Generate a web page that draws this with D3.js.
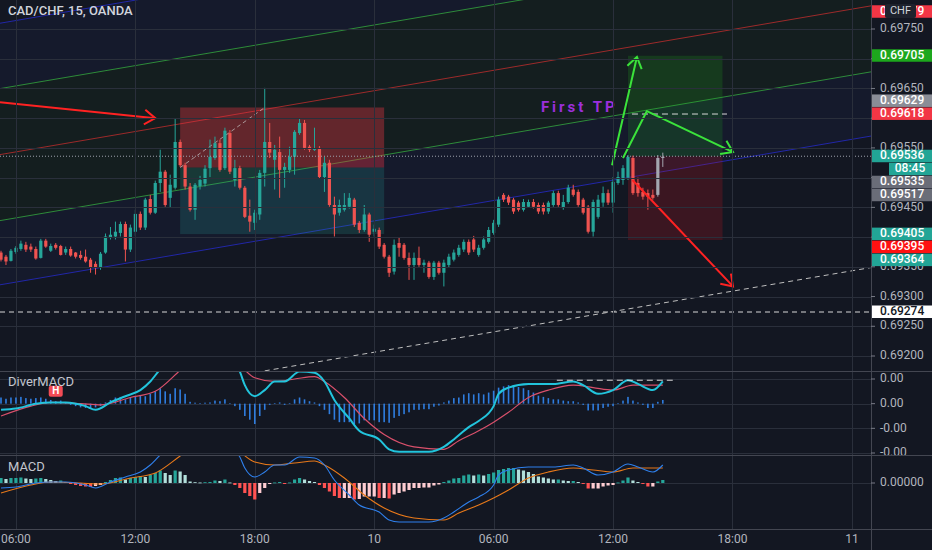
<!DOCTYPE html>
<html><head><meta charset="utf-8">
<script src="https://cdn.jsdelivr.net/npm/d3@7"></script>
<style>html,body{margin:0;padding:0;background:#131722;overflow:hidden}svg{display:block}</style>
</head><body><svg id="c" width="932" height="550"></svg>
<script>
// ---------- DATA (CAD/CHF 15m, OANDA) ----------
const open=[0.69374,0.69367,0.69360,0.69375,0.69380,0.69387,0.69384,0.69380,0.69365,0.69394,
0.69377,0.69387,0.69385,0.69374,0.69380,0.69374,0.69370,0.69367,0.69362,0.69355,
0.69348,0.69374,0.69399,0.69401,0.69407,0.69422,0.69379,0.69409,0.69439,0.69416,
0.69464,0.69441,0.69491,0.69510,0.69466,0.69483,0.69560,0.69521,0.69485,0.69446,
0.69486,0.69490,0.69516,0.69533,0.69558,0.69516,0.69575,0.69496,0.69516,0.69483,
0.69436,0.69424,0.69438,0.69508,0.69560,0.69530,0.69543,0.69513,0.69513,0.69535,
0.69575,0.69592,0.69552,0.69547,0.69550,0.69501,0.69525,0.69454,0.69441,0.69446,
0.69451,0.69463,0.69424,0.69412,0.69438,0.69409,0.69412,0.69387,0.69367,0.69342,
0.69390,0.69387,0.69365,0.69353,0.69365,0.69353,0.69357,0.69333,0.69357,0.69340,
0.69353,0.69362,0.69370,0.69379,0.69392,0.69396,0.69370,0.69382,0.69392,0.69407,
0.69421,0.69471,0.69468,0.69463,0.69458,0.69446,0.69451,0.69459,0.69454,0.69454,
0.69443,0.69454,0.69474,0.69449,0.69459,0.69480,0.69476,0.69463,0.69451,0.69409,
0.69434,0.69458,0.69474,0.69458,0.69491,0.69496,0.69500,0.69533,0.69491,0.69476,
0.69474,0.69471,0.69471,0.69533];
const high=[0.69377,0.69370,0.69380,0.69385,0.69394,0.69392,0.69389,0.69384,0.69397,0.69397,
0.69389,0.69390,0.69387,0.69384,0.69384,0.69375,0.69377,0.69379,0.69365,0.69359,
0.69375,0.69406,0.69417,0.69426,0.69426,0.69426,0.69421,0.69446,0.69443,0.69466,
0.69471,0.69495,0.69547,0.69513,0.69505,0.69600,0.69564,0.69525,0.69491,0.69491,
0.69503,0.69521,0.69564,0.69569,0.69564,0.69584,0.69580,0.69530,0.69520,0.69486,
0.69463,0.69446,0.69513,0.69651,0.69592,0.69555,0.69569,0.69525,0.69552,0.69580,
0.69600,0.69597,0.69555,0.69584,0.69553,0.69535,0.69530,0.69468,0.69463,0.69474,
0.69474,0.69466,0.69427,0.69454,0.69441,0.69421,0.69416,0.69390,0.69370,0.69396,
0.69399,0.69390,0.69374,0.69374,0.69384,0.69362,0.69360,0.69360,0.69360,0.69362,
0.69372,0.69379,0.69387,0.69396,0.69396,0.69402,0.69387,0.69401,0.69417,0.69429,
0.69468,0.69474,0.69471,0.69466,0.69461,0.69464,0.69463,0.69464,0.69458,0.69458,
0.69461,0.69478,0.69478,0.69471,0.69488,0.69488,0.69480,0.69466,0.69454,0.69463,
0.69471,0.69485,0.69480,0.69501,0.69510,0.69521,0.69538,0.69537,0.69500,0.69483,
0.69480,0.69480,0.69538,0.69542];
const low=[0.69359,0.69353,0.69359,0.69372,0.69377,0.69375,0.69375,0.69362,0.69364,0.69382,
0.69375,0.69379,0.69369,0.69370,0.69367,0.69364,0.69362,0.69357,0.69340,0.69337,
0.69345,0.69372,0.69396,0.69396,0.69401,0.69359,0.69375,0.69402,0.69412,0.69412,
0.69438,0.69439,0.69476,0.69451,0.69449,0.69480,0.69518,0.69480,0.69443,0.69429,
0.69480,0.69485,0.69501,0.69530,0.69510,0.69513,0.69506,0.69485,0.69480,0.69432,
0.69409,0.69412,0.69429,0.69485,0.69533,0.69480,0.69466,0.69483,0.69508,0.69505,
0.69572,0.69547,0.69543,0.69545,0.69498,0.69476,0.69451,0.69401,0.69436,0.69443,
0.69448,0.69417,0.69407,0.69409,0.69392,0.69401,0.69380,0.69364,0.69333,0.69337,
0.69367,0.69362,0.69328,0.69328,0.69350,0.69340,0.69330,0.69328,0.69337,0.69317,
0.69348,0.69359,0.69367,0.69375,0.69370,0.69375,0.69367,0.69379,0.69389,0.69404,
0.69417,0.69459,0.69454,0.69439,0.69443,0.69443,0.69449,0.69448,0.69439,0.69438,
0.69439,0.69451,0.69451,0.69446,0.69456,0.69468,0.69451,0.69438,0.69406,0.69401,
0.69431,0.69451,0.69454,0.69441,0.69488,0.69488,0.69496,0.69471,0.69468,0.69463,
0.69446,0.69463,0.69468,0.69518];
const close=[0.69362,0.69359,0.69377,0.69382,0.69389,0.69379,0.69379,0.69364,0.69394,0.69384,
0.69385,0.69382,0.69370,0.69380,0.69369,0.69367,0.69365,0.69359,0.69348,0.69348,
0.69372,0.69401,0.69404,0.69409,0.69422,0.69379,0.69416,0.69439,0.69416,0.69463,
0.69441,0.69491,0.69510,0.69454,0.69488,0.69560,0.69521,0.69485,0.69446,0.69488,
0.69496,0.69515,0.69535,0.69558,0.69513,0.69579,0.69510,0.69516,0.69483,0.69434,
0.69426,0.69441,0.69508,0.69560,0.69542,0.69547,0.69513,0.69518,0.69535,0.69577,
0.69592,0.69550,0.69547,0.69548,0.69501,0.69525,0.69454,0.69438,0.69454,0.69454,
0.69466,0.69421,0.69412,0.69438,0.69404,0.69414,0.69384,0.69367,0.69340,0.69387,
0.69382,0.69365,0.69353,0.69365,0.69353,0.69357,0.69333,0.69357,0.69340,0.69357,
0.69367,0.69374,0.69382,0.69392,0.69374,0.69379,0.69382,0.69396,0.69412,0.69424,
0.69463,0.69463,0.69458,0.69443,0.69446,0.69459,0.69459,0.69451,0.69443,0.69443,
0.69458,0.69474,0.69454,0.69459,0.69483,0.69471,0.69454,0.69441,0.69409,0.69459,
0.69463,0.69474,0.69458,0.69493,0.69501,0.69516,0.69535,0.69474,0.69474,0.69468,
0.69468,0.69466,0.69533,0.69535];
const grayBars=[132,133];

const hist=[0.00005,0.00004,0.00005,0.00005,0.000055,0.000045,0.00004,0.000045,0.00005,0.00004,
0.00003,0.00002,0.000025,0.00001,-0.00001,-0.00002,-0.00003,-0.000035,-0.00004,-0.00003,
-0.00002,0.00001,0.00003,0.00005,0.000055,0.000035,0.00005,0.00006,0.00007,0.00006,
0.00008,0.0001,0.000125,0.0001,0.00008,0.000125,0.000115,0.00008,0.000015,0.000008,
0.000005,0.000008,0.00001,0.000025,0.00002,0.000035,0.000005,-0.00002,-0.00005,-0.0001,
-0.00013,-0.000165,-0.0001,-0.00005,-0.00001,0.000005,0.00001,-0.00001,0.000005,0.000035,
0.00005,0.000035,0.00002,0.00001,-0.00002,-0.00005,-0.000085,-0.00013,-0.00015,-0.00015,
-0.00015,-0.000165,-0.00016,-0.000135,-0.000135,-0.000135,-0.00015,-0.00015,-0.000155,-0.000115,
-0.0001,-0.000085,-0.00007,-0.00005,-0.00005,-0.000045,-0.000045,-0.000025,-0.000015,0.00001,
0.000025,0.000045,0.00005,0.000075,0.000085,0.000075,0.000085,0.000075,0.00009,0.000105,
0.00013,0.00014,0.00015,0.00015,0.000135,0.000125,0.00011,0.00009,0.000065,0.000055,
0.000045,0.000035,0.000035,0.000025,0.00002,0.00002,0.00001,-0.00001,-0.000055,-0.000055,
-0.000055,-0.000035,-0.000025,-0.00002,0.000005,0.000025,0.000055,0.000025,0.00001,-0.00001,
-0.000035,-0.000035,0.000015,0.00003];
const macdBar=[0,3,7,10,13,17,19,22,25,28,30,32,35,38,41,44,46,47,48,49,51,53,55,57,60,63,65,67,70,72,76,78,80,86,89,91,94,96,99,100,102,106,111,115,117,120,123,126,128,131,133];
const macdVal=[-0.00005,-0.00004,0,0.00001,0.00001,-0.00002,-0.00005,0.00001,0.00006,0.00011,
0.00018,0.00028,0.0004,0.00036,0.00039,0.00041,0.00038,0.00033,0.00026,0.00015,
0.00006,0.00011,0.00018,0.00018,0.00026,0.00025,0.00018,0.00003,-0.00012,-0.00022,
-0.00029,-0.00037,-0.00039,-0.00039,-0.00035,-0.00029,-0.00019,-0.00014,-0.00002,0.00008,
0.00013,0.00016,0.00016,0.00018,0.00015,0.00008,0.00011,0.00019,0.00016,0.00011,0.00018];
const signalBar=[0,6,10,16,20,26,31,36,38,41,44,46,48,51,55,59,63,65,69,73,77,83,89,92,96,99,102,106,110,115,119,123,127,133];
const signalVal=[-0.0001,-0.00002,0.00001,0,-0.00001,0.00005,0.0001,0.00027,0.00034,0.00038,
0.00039,0.000375,0.00031,0.00021,0.00018,0.0002,0.00022,0.00018,0.00005,-0.00012,
-0.00025,-0.00035,-0.00037,-0.0003,-0.00022,-0.00015,-0.00007,0.00005,0.00011,0.00015,
0.00013,0.00011,0.00015,0.00015];

const priceTicks=[0.692,0.6925,0.693,0.6935,0.694,0.6945,0.695,0.6955,0.696,0.6965,0.697,0.6975];
const diverTicks=[0.0002,0,-0.0002,-0.0004];
const macdTicks=[0];
const timeTicks=[new Date(2020,0,9,6),new Date(2020,0,9,12),new Date(2020,0,9,18),new Date(2020,0,10,0),
  new Date(2020,0,10,6),new Date(2020,0,10,12),new Date(2020,0,10,18),new Date(2020,0,11,0)];

// price-axis markers
const markPrices=[0.69779,0.69705,0.69629,0.69618,0.69536,0.69535,0.69517,0.69405,0.69395,0.69364,0.69274];
const markColors=["#f23645","#1da71d","#8a8d96","#f23645","#22a596","#6a6d78","#6a6d78","#22a596","#ff1111","#22a596","#ffffff"];
const countdown="08:45";
const lastPrice=0.69536;

// drawings (bar index, price)
const chanBars=[0,170];
const blueUpper=[0.69760,0.70003], blueLower=[0.69320,0.69563];
const greenUpper=[0.69650,0.69892], greenLower=[0.69428,0.69671], redMid=[0.69539,0.69782];
const leftBox={b:[36,77], top:0.69618, entry:0.69517, bottom:0.69405};
const rightBox={b:[126,145], top:0.69705, entry:0.69536, bottom:0.69395};
const leftBoxDiag=[[36,0.69517],[53,0.69618]];
const greenArrow1=[[122.8,0.69521],[127.8,0.69703]];
const greenArrow2=[[125,0.69533],[129.8,0.69612],[147.1,0.69543]];
const redArrow1=[[-0.2,0.69627],[31,0.69600]];
const redArrow2=[[126.9,0.69496],[147.1,0.69317]];
const firstTPLine=[[126.8,0.69607],[145.9,0.69607]];
const firstTPText={b:108.5,p:0.69617,text:"First TP"};
const diagDashed=[[53,0.69175],[175,0.69349]];
const hLineDashed=0.69274;
const diverDashed=[[111.7,0.00019],[135,0.00019]];
const hMarker={b:11,v:0.0001};

// ---------- RENDER ----------
const W=932,H=550,AX=871;
const svg=d3.select('#c');
const defs=svg.append('defs');
function clip(id,y0,y1,x1){defs.append('clipPath').attr('id',id).append('rect').attr('x',0).attr('y',y0).attr('width',x1).attr('height',y1-y0);}
clip('cm',0,371,AX);clip('cd',371,455,AX);clip('cq',455,529,AX);clip('cda',371,455,W);
const FONT='Roboto, "Noto Sans", sans-serif';
svg.append('rect').attr('width',W).attr('height',H).attr('fill','#131722');

const t0=new Date(2020,0,9,5,15);
const barTime=i=>new Date(+t0+i*900000);
const x=d3.scaleTime().domain([t0,new Date(2020,0,11,0,0)]).range([1,1+4.976*171]);
const xb=i=>x(barTime(i));
const y=d3.scaleLinear().domain([0.692,0.6975]).range([356,29]);
const yd=d3.scaleLinear().domain([-0.0004,0.0002]).range([453,379]);
const yq=d3.scaleLinear().domain([0,0.0001]).range([483,473]);

const main=svg.append('g').attr('clip-path','url(#cm)');
const lineAt=(pp,b)=>pp[0]+(pp[1]-pp[0])*(b-chanBars[0])/(chanBars[1]-chanBars[0]);
function chanPoly(u,l,fill){
  const bs=[-10,185];
  const pts=[[xb(bs[0]),y(lineAt(u,bs[0]))],[xb(bs[1]),y(lineAt(u,bs[1]))],[xb(bs[1]),y(lineAt(l,bs[1]))],[xb(bs[0]),y(lineAt(l,bs[0]))]];
  main.append('path').attr('d',d3.line()(pts)+'Z').attr('fill',fill);
}
chanPoly(blueUpper,blueLower,'#151a2c');
chanPoly(greenUpper,greenLower,'#141e1f');

// grid
const grid=svg.append('g').attr('stroke','#2a2f3b').attr('stroke-width',1);
timeTicks.forEach(t=>grid.append('line').attr('x1',Math.round(x(t))+0.5).attr('x2',Math.round(x(t))+0.5).attr('y1',0).attr('y2',529));
priceTicks.forEach(p=>grid.append('line').attr('x1',0).attr('x2',AX).attr('y1',Math.round(y(p))+0.5).attr('y2',Math.round(y(p))+0.5));
diverTicks.forEach(v=>grid.append('line').attr('x1',0).attr('x2',AX).attr('y1',Math.round(yd(v))+0.5).attr('y2',Math.round(yd(v))+0.5));
macdTicks.forEach(v=>grid.append('line').attr('x1',0).attr('x2',AX).attr('y1',Math.round(yq(v))+0.5).attr('y2',Math.round(yq(v))+0.5));

// channel lines
function chanLine(pp,color){
  const bs=[-10,185];
  main.append('line').attr('x1',xb(bs[0])).attr('y1',y(lineAt(pp,bs[0]))).attr('x2',xb(bs[1])).attr('y2',y(lineAt(pp,bs[1])))
    .attr('stroke',color).attr('stroke-width',1);
}
chanLine(blueUpper,'#2227a8');chanLine(blueLower,'#2227a8');
chanLine(greenUpper,'#2e8b3a');chanLine(greenLower,'#2e8b3a');chanLine(redMid,'#9c2a2a');

// position boxes
function rect(g,b0,b1,p0,p1,fill){g.append('rect').attr('x',xb(b0)).attr('width',xb(b1)-xb(b0)).attr('y',y(p0)).attr('height',y(p1)-y(p0)).attr('fill',fill);}
rect(main,leftBox.b[0],leftBox.b[1],leftBox.top,leftBox.entry,'rgba(242,54,69,0.36)');
rect(main,leftBox.b[0],leftBox.b[1],leftBox.entry,leftBox.bottom,'rgba(38,166,154,0.2)');
rect(main,rightBox.b[0],rightBox.b[1],rightBox.top,rightBox.entry,'rgba(30,170,30,0.2)');
rect(main,rightBox.b[0],rightBox.b[1],rightBox.entry,rightBox.bottom,'rgba(220,20,30,0.2)');
const P=pts=>pts.map(([b,p])=>[xb(b),y(p)]);
main.append('path').attr('d',d3.line()(P(leftBoxDiag))).attr('stroke','#c8c8c8').attr('stroke-opacity',0.7).attr('stroke-dasharray','4,3').attr('fill','none');

// candles
const cg=main.append('g');
open.forEach((o,i)=>{
  const c=close[i], up=c>=o;
  const col=grayBars.includes(i)?'#a3a6af':(up?'#26a69a':'#ef5350');
  const cx=xb(i);
  cg.append('line').attr('x1',cx).attr('x2',cx).attr('y1',y(high[i])).attr('y2',y(low[i])).attr('stroke',col).attr('stroke-width',1);
  const yt=y(Math.max(o,c)), yb=y(Math.min(o,c));
  cg.append('rect').attr('x',cx-1.6).attr('width',3.2).attr('y',yt).attr('height',Math.max(1,yb-yt)).attr('fill',col);
});

// price line & horizontal dashed
main.append('line').attr('x1',0).attr('x2',AX).attr('y1',y(lastPrice)).attr('y2',y(lastPrice)).attr('stroke','#9fa3ad').attr('stroke-dasharray','1,2');
main.append('line').attr('x1',0).attr('x2',AX).attr('y1',y(hLineDashed)).attr('y2',y(hLineDashed)).attr('stroke','#d8d8d8').attr('stroke-dasharray','5,4');
main.append('path').attr('d',d3.line()(P(diagDashed))).attr('stroke','#bfbfbf').attr('stroke-dasharray','5,4').attr('fill','none');
main.append('path').attr('d',d3.line()(P(firstTPLine))).attr('stroke','#d8d8d8').attr('stroke-dasharray','6,4').attr('fill','none');

// arrows
function arrow(pts,color){
  const Q=P(pts);
  main.append('path').attr('d',d3.line()(Q)).attr('stroke',color).attr('stroke-width',2).attr('fill','none').attr('stroke-linejoin','round');
  const [x1,y1]=Q[Q.length-1],[x0,y0]=Q[Q.length-2];
  const a=Math.atan2(y1-y0,x1-x0),L=13,s=0.6;
  const w1=[x1-L*Math.cos(a-s),y1-L*Math.sin(a-s)],w2=[x1-L*Math.cos(a+s),y1-L*Math.sin(a+s)];
  main.append('path').attr('d',d3.line()([w1,[x1,y1],w2])).attr('stroke',color).attr('stroke-width',2).attr('fill','none').attr('stroke-linejoin','miter');
}
arrow(greenArrow1,'#3be33b');arrow(greenArrow2,'#3be33b');
arrow(redArrow1,'#ff2222');arrow(redArrow2,'#ff2222');
main.append('text').attr('x',xb(firstTPText.b)).attr('y',y(firstTPText.p)).attr('dominant-baseline','middle')
  .attr('font-family',FONT).attr('font-weight',700).attr('font-size',15).attr('letter-spacing',3).attr('fill','#9b2fdc').text(firstTPText.text);

// title
svg.append('text').attr('x',8).attr('y',12).attr('dominant-baseline','middle').attr('font-family',FONT).attr('font-weight',500).attr('font-size',13).attr('fill','#d1d4dc').text('CAD/CHF, 15, OANDA');

// ---- DiverMACD pane ----
const dg=svg.append('g').attr('clip-path','url(#cd)');
hist.forEach((v,i)=>{const a=yd(0),b=yd(v);dg.append('rect').attr('x',xb(i)-0.8).attr('width',1.6).attr('y',Math.min(a,b)).attr('height',Math.max(0.6,Math.abs(b-a))).attr('fill','#2f7ddf');});
const lnD=d3.line().x(d=>xb(d[0])).y(d=>yd(d[1])).curve(d3.curveMonotoneX);
dg.append('path').attr('d',lnD(signalBar.map((b,k)=>[b,signalVal[k]]))).attr('stroke','#d9506b').attr('stroke-width',1.2).attr('fill','none');
dg.append('path').attr('d',lnD(macdBar.map((b,k)=>[b,macdVal[k]]))).attr('stroke','#22c4dc').attr('stroke-width',2).attr('fill','none');
dg.append('path').attr('d',d3.line()(diverDashed.map(([b,v])=>[xb(b),yd(v)]))).attr('stroke','#d8d8d8').attr('stroke-dasharray','6,4').attr('fill','none');
svg.append('text').attr('x',8).attr('y',383).attr('dominant-baseline','middle').attr('font-family',FONT).attr('font-size',13).attr('fill','#c3c6ce').text('DiverMACD');
const hx=xb(hMarker.b),hy=yd(hMarker.v);
dg.append('rect').attr('x',hx-7).attr('y',hy-5.5).attr('width',14).attr('height',11).attr('rx',2).attr('fill','#f24b55');
dg.append('text').attr('x',hx).attr('y',hy+0.5).attr('text-anchor','middle').attr('dominant-baseline','middle').attr('font-family',FONT).attr('font-weight',700).attr('font-size',10).attr('fill','#fff').text('H');

// ---- MACD pane ----
const qg=svg.append('g').attr('clip-path','url(#cq)');
hist.forEach((v,i)=>{
  const pv=i>0?hist[i-1]:v;
  const col=v>=0?(v>=pv?'#26a69a':'#b2dfdb'):(v<pv?'#ff5252':'#ffcdd2');
  const a=yq(0),b=yq(v);
  qg.append('rect').attr('x',xb(i)-1.6).attr('width',3.2).attr('y',Math.min(a,b)).attr('height',Math.max(0.8,Math.abs(b-a))).attr('fill',col);
});
const lnQ=d3.line().x(d=>xb(d[0])).y(d=>yq(d[1])).curve(d3.curveMonotoneX);
qg.append('path').attr('d',lnQ(signalBar.map((b,k)=>[b,signalVal[k]]))).attr('stroke','#e8791a').attr('stroke-width',1.1).attr('fill','none');
qg.append('path').attr('d',lnQ(macdBar.map((b,k)=>[b,macdVal[k]]))).attr('stroke','#2f80ed').attr('stroke-width',1.1).attr('fill','none');
svg.append('text').attr('x',8).attr('y',468).attr('dominant-baseline','middle').attr('font-family',FONT).attr('font-size',13).attr('fill','#c3c6ce').text('MACD');

// separators
const sep=svg.append('g').attr('stroke','#434651').attr('stroke-width',1);
[371,455,529].forEach(v=>sep.append('line').attr('x1',0).attr('x2',W).attr('y1',v+0.5).attr('y2',v+0.5));
sep.append('line').attr('x1',AX+0.5).attr('x2',AX+0.5).attr('y1',0).attr('y2',550);

// price markers layout (collision avoidance)
const items=markPrices.map((p,k)=>({p,k,y:y(p),h:(k===markPrices.indexOf(lastPrice))?26:13})).sort((a,b)=>a.y-b.y);
let prevEnd=-100;
items.forEach(it=>{let top=it.y-6.5;if(top<prevEnd)top=prevEnd;it.top=top;prevEnd=top+it.h;});
const boxes=[];
items.forEach(it=>{boxes.push([it.top+6.5]);if(it.h>13)boxes.push([it.top+19.5]);});

// price axis ticks (skip labels hidden behind markers)
const ax=svg.append('g').attr('font-family',FONT).attr('font-size',12).attr('fill','#b2b5be');
priceTicks.forEach(p=>{
  const ty=y(p);
  ax.append('line').attr('x1',AX).attr('x2',AX+4).attr('y1',ty).attr('y2',ty).attr('stroke','#787b86');
  const hidden=boxes.some(b=>Math.abs(b[0]-ty)<6)||ty<22;
  if(!hidden) ax.append('text').attr('x',880).attr('y',ty).attr('dominant-baseline','middle').text(p.toFixed(5));
});
const axd=svg.append('g').attr('clip-path','url(#cda)').attr('font-family',FONT).attr('font-size',12).attr('fill','#b2b5be');
diverTicks.forEach(v=>{
  axd.append('line').attr('x1',AX).attr('x2',AX+4).attr('y1',yd(v)).attr('y2',yd(v)).attr('stroke','#787b86');
  axd.append('text').attr('x',880).attr('y',yd(v)).attr('dominant-baseline','middle').text((v<0?'-':'')+Math.abs(v).toFixed(2));
});
macdTicks.forEach(v=>{
  ax.append('line').attr('x1',AX).attr('x2',AX+4).attr('y1',yq(v)).attr('y2',yq(v)).attr('stroke','#787b86');
  ax.append('text').attr('x',880).attr('y',yq(v)).attr('dominant-baseline','middle').text(v.toFixed(5));
});

// markers
const mk=svg.append('g').attr('font-family',FONT).attr('font-size',12);
items.forEach(it=>{
  const col=markColors[it.k];
  mk.append('rect').attr('x',AX+1).attr('y',it.top).attr('width',W-AX-1).attr('height',12.5).attr('fill',col);
  mk.append('text').attr('x',880).attr('y',it.top+6.5).attr('dominant-baseline','middle').attr('font-weight',500).attr('fill',col==='#ffffff'?'#131722':'#ffffff').text(it.p.toFixed(5));
  if(it.h>13){
    mk.append('rect').attr('x',889).attr('y',it.top+13).attr('width',W-889).attr('height',12.5).attr('fill',col);
    mk.append('text').attr('x',910).attr('y',it.top+19.5).attr('text-anchor','middle').attr('dominant-baseline','middle').attr('font-weight',500).attr('fill','#fff').text(countdown);
  }
});
// currency badge
svg.append('rect').attr('x',885).attr('y',4).attr('width',31).attr('height',14).attr('rx',2).attr('fill','#1e222d');
svg.append('text').attr('x',900.5).attr('y',11.5).attr('text-anchor','middle').attr('dominant-baseline','middle').attr('font-family',FONT).attr('font-size',11).attr('fill','#d1d4dc').text('CHF');

// time axis
const tf=d=>d.getHours()===0?d3.timeFormat('%-d')(d):d3.timeFormat('%H:%M')(d);
const ta=svg.append('g').attr('font-family',FONT).attr('font-size',12).attr('fill','#b2b5be');
timeTicks.forEach(t=>ta.append('text').attr('x',x(t)).attr('y',540).attr('text-anchor','middle').attr('dominant-baseline','middle').text(tf(t)));
</script></body></html>
